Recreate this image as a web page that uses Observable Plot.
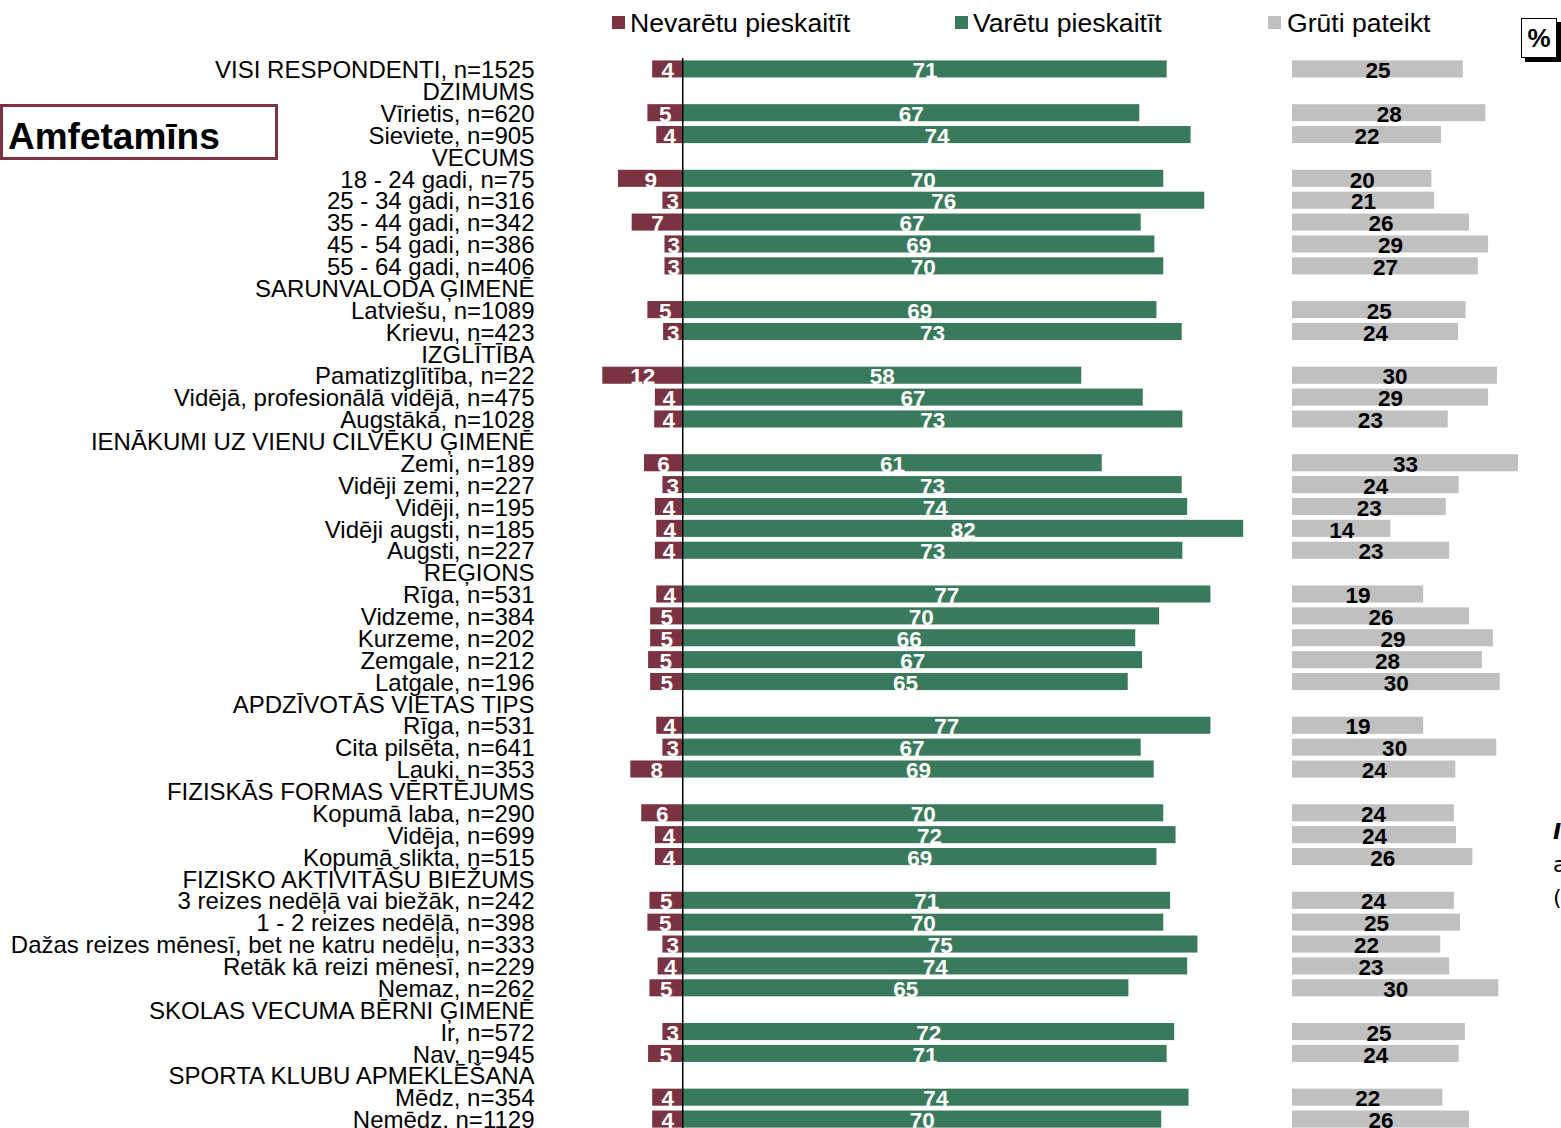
<!DOCTYPE html>
<html><head><meta charset="utf-8">
<script src="https://cdn.jsdelivr.net/npm/d3@7"></script>
<script src="https://cdn.jsdelivr.net/npm/@observablehq/plot@0.6"></script>
<style>
body{margin:0;background:#fff;font-family:"Liberation Sans",Arial,sans-serif;color:#000;}
#page{position:relative;width:1561px;height:1128px;overflow:hidden;background:#fff;}
.abs{position:absolute;}
.lg-sq{position:absolute;width:13px;height:13px;top:16px;}
.lg-tx{position:absolute;top:10px;font-size:26.6px;line-height:26px;white-space:nowrap;}
#title{left:0;top:104px;height:50px;border:3px solid #7B3341;font-weight:bold;font-size:37px;line-height:60px;padding-left:5px;box-sizing:content-box;width:267px;overflow:hidden;}
#pct{left:1521px;top:18px;width:34px;height:38px;border:1px solid #000;box-shadow:4px 4px 0 #000;font-weight:bold;font-size:26px;line-height:38px;text-align:center;background:#fff;}
#note{left:1553px;top:815px;font-size:22px;line-height:33px;font-family:"DejaVu Sans",sans-serif;white-space:nowrap;}
#p1 svg,#p2 svg{max-width:none !important;}
</style></head>
<body><div id="page">
<div id="legend"></div>
<div id="title" class="abs">Amfetamīns</div>
<div id="pct" class="abs">%</div>
<div id="note" class="abs"><b><i>I</i></b><br>a<br>(</div>
<div id="p1" class="abs" style="left:0;top:45px;width:1263px;"></div>
<div id="p2" class="abs" style="left:1292px;top:45px;width:270px;"></div>
</div>
<script>
const categories = [
 "VISI RESPONDENTI, n=1525",
 "DZIMUMS",
 "Vīrietis, n=620",
 "Sieviete, n=905",
 "VECUMS",
 "18 - 24 gadi, n=75",
 "25 - 34 gadi, n=316",
 "35 - 44 gadi, n=342",
 "45 - 54 gadi, n=386",
 "55 - 64 gadi, n=406",
 "SARUNVALODA ĢIMENĒ",
 "Latviešu, n=1089",
 "Krievu, n=423",
 "IZGLĪTĪBA",
 "Pamatizglītība, n=22",
 "Vidējā, profesionālā vidējā, n=475",
 "Augstākā, n=1028",
 "IENĀKUMI UZ VIENU CILVĒKU ĢIMENĒ",
 "Zemi, n=189",
 "Vidēji zemi, n=227",
 "Vidēji, n=195",
 "Vidēji augsti, n=185",
 "Augsti, n=227",
 "REĢIONS",
 "Rīga, n=531",
 "Vidzeme, n=384",
 "Kurzeme, n=202",
 "Zemgale, n=212",
 "Latgale, n=196",
 "APDZĪVOTĀS VIETAS TIPS",
 "Rīga, n=531",
 "Cita pilsēta, n=641",
 "Lauki, n=353",
 "FIZISKĀS FORMAS VĒRTĒJUMS",
 "Kopumā laba, n=290",
 "Vidēja, n=699",
 "Kopumā slikta, n=515",
 "FIZISKO AKTIVITĀŠU BIEŽUMS",
 "3 reizes nedēļā vai biežāk, n=242",
 "1 - 2 reizes nedēļā, n=398",
 "Dažas reizes mēnesī, bet ne katru nedēļu, n=333",
 "Retāk kā reizi mēnesī, n=229",
 "Nemaz, n=262",
 "SKOLAS VECUMA BĒRNI ĢIMENĒ",
 "Ir, n=572",
 "Nav, n=945",
 "SPORTA KLUBU APMEKLĒŠANA",
 "Mēdz, n=354",
 "Nemēdz, n=1129"
];
// null = group header row (no bars)
const nevaretu = [4.4,null,5.1,3.8,null,9.4,2.9,7.4,2.6,2.6,null,5.1,2.8,null,11.7,4.0,4.1,null,5.6,2.9,4.0,3.8,4.0,null,3.8,4.7,4.7,5.0,4.7,null,3.8,2.9,7.6,null,6.0,4.0,4.0,null,4.8,5.1,2.9,3.6,4.8,null,2.9,5.0,null,4.4,4.4];
const varetu = [70.9,null,66.9,74.4,null,70.4,76.4,67.1,69.1,70.4,null,69.4,73.1,null,58.4,67.4,73.2,null,61.4,73.1,73.9,82.1,73.2,null,77.3,69.8,66.3,67.3,65.2,null,77.3,67.1,69.0,null,70.4,72.2,69.4,null,71.4,70.4,75.4,73.9,65.3,null,72.0,70.9,null,74.1,70.1];
const gruti = [25.0,null,28.3,21.8,null,20.4,20.8,25.9,28.7,27.2,null,25.4,24.3,null,30.0,28.7,22.8,null,33.1,24.4,22.5,14.4,23.0,null,19.2,25.9,29.4,27.8,30.4,null,19.2,29.9,23.9,null,23.7,24.0,26.4,null,23.7,24.6,21.7,23.0,30.2,null,25.3,24.4,null,22.0,25.9];
const legendLabels = ["Nevarētu pieskaitīt","Varētu pieskaitīt","Grūti pateikt"];
const colors = ["#7B3341","#3A7A5C","#C0C0C0"];

// legend
const legendPos = [[612,630],[955,973],[1268,1287]];
const lg = document.getElementById("legend");
legendLabels.forEach((t,k)=>{
  const sq=document.createElement("div");sq.className="lg-sq";sq.style.left=legendPos[k][0]+"px";sq.style.background=colors[k];lg.appendChild(sq);
  const tx=document.createElement("div");tx.className="lg-tx";tx.style.left=legendPos[k][1]+"px";tx.textContent=t;lg.appendChild(tx);
});

const rows = categories.map((label,i)=>({i,label,neg:nevaretu[i],pos:varetu[i],dk:gruti[i]}));
const data = rows.filter(d=>d.pos!=null);
const TOP = 13, H = TOP + 1072;
const yOpts = {type:"band",domain:d3.range(categories.length),paddingInner:0.22,paddingOuter:0.11,align:0.5,label:null};
const font = {fontFamily:"'Liberation Sans', Arial, sans-serif",fontSize:"24px",color:"#000",background:"transparent",overflow:"visible",maxWidth:"none"};
const LBL = 22.5;

const p1 = Plot.plot({
  width:1263,height:H,marginLeft:590,marginRight:0,marginTop:TOP,marginBottom:0,
  style:font,
  x:{domain:[-13.5,85],axis:null},
  y:{...yOpts,axis:null},
  marks:[
    Plot.barX(data,{x1:0,x2:d=>-d.neg,y:"i",fill:colors[0]}),
    Plot.barX(data,{x1:0,x2:"pos",y:"i",fill:colors[1]}),
    Plot.ruleX([0],{stroke:"#000",strokeWidth:1.5}),
    Plot.text(data,{x:d=>-d.neg/2,y:"i",text:d=>String(Math.round(d.neg)),fill:"#fff",fontWeight:"bold",fontSize:LBL,dy:1.5}),
    Plot.text(data,{x:d=>d.pos/2,y:"i",text:d=>String(Math.round(d.pos)),fill:"#fff",fontWeight:"bold",fontSize:LBL,dy:1.5}),
    Plot.axisY({anchor:"left",label:null,tickSize:0,tickPadding:56,tickFormat:i=>categories[i],fontSize:24,fill:"#000",dy:1})
  ]
});
document.getElementById("p1").appendChild(p1);

const p2 = Plot.plot({
  width:270,height:H,marginLeft:0,marginRight:0,marginTop:TOP,marginBottom:0,
  style:font,
  x:{domain:[0,39.52],axis:null},
  y:{...yOpts,axis:null},
  marks:[
    Plot.barX(data,{x1:0,x2:"dk",y:"i",fill:colors[2]}),
    Plot.text(data,{x:d=>d.dk/2,y:"i",text:d=>String(Math.round(d.dk)),fill:"#000",fontWeight:"bold",fontSize:LBL,dy:1.5})
  ]
});
document.getElementById("p2").appendChild(p2);
</script>
</body></html>
